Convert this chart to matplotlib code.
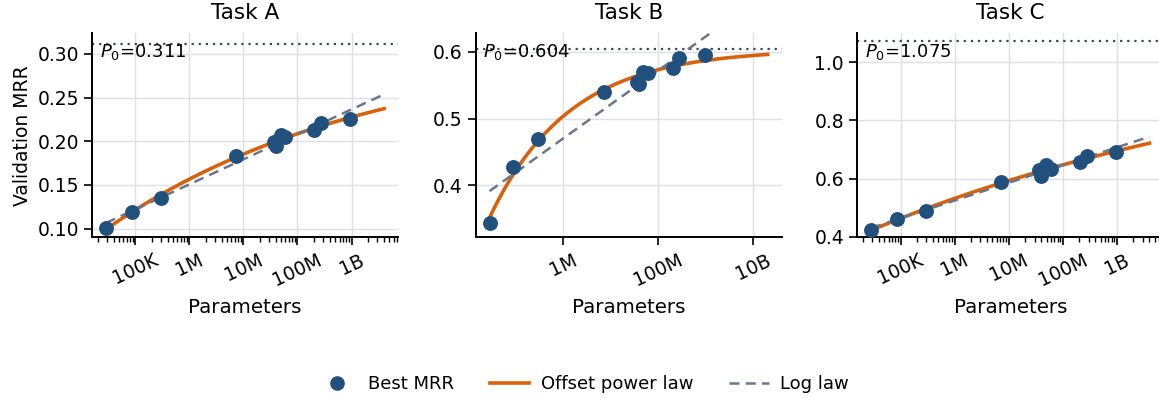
"""Scaling of validation MRR with model size for three tasks: best runs plus two fitted laws."""

import numpy as np
import matplotlib

matplotlib.use("Agg")
import matplotlib.pyplot as plt
from matplotlib.lines import Line2D
from matplotlib.ticker import FuncFormatter, NullFormatter

# --- data ------------------------------------------------------------------
params = [2.86e4, 8.7e4, 2.95e5, 7.3e6, 3.6e7, 4.0e7, 4.9e7, 6.0e7, 2.05e8, 2.75e8, 9.5e8]

tasks = ["Task A", "Task B", "Task C"]
mrr_a = [0.101, 0.1195, 0.1347, 0.1835, 0.1995, 0.1946, 0.2072, 0.2047, 0.2129, 0.2205, 0.2253]
mrr_b = [0.3428, 0.4274, 0.4697, 0.5400, 0.5552, 0.5517, 0.5706, 0.5680, 0.5766, 0.5905, 0.5955]
mrr_c = [0.4232, 0.4600, 0.4900, 0.5870, 0.6310, 0.6080, 0.6480, 0.6330, 0.6560, 0.6770, 0.6930]
p0 = [0.311, 0.604, 1.075]
fit_end = [4.0e9, 2.0e10, 4.0e9]          # how far the fitted curves are drawn
ylims = [(0.0902, 0.3235), (0.322, 0.628), (0.398, 1.100)]

BLUE = "#21507d"
ORANGE = "#d8620b"
SLATE = "#6c768b"
DOT = "#3c4657"
GRID = "#dde0e8"


def fit_log_law(n, y):
    """y = a + b * log10(n), ordinary least squares."""
    b, a = np.polyfit(np.log10(n), y, 1)
    return a, b


def fit_offset_power(n, y, p_inf):
    """y = p_inf - a * n**(-alpha); alpha by grid search, a by least squares."""
    n, y = np.asarray(n, float), np.asarray(y, float)
    best = None
    for alpha in np.linspace(0.005, 1.0, 2000):
        g = n ** (-alpha)
        a = np.dot(g, p_inf - y) / np.dot(g, g)
        sse = np.sum((p_inf - a * g - y) ** 2)
        if best is None or sse < best[0]:
            best = (sse, a, alpha)
    return best[1], best[2]


def fmt_params(x, _pos):
    for div, suf in ((1e9, "B"), (1e6, "M"), (1e3, "K")):
        if x >= div:
            return f"{x / div:g}{suf}"
    return f"{x:g}"


plt.rcParams.update({"font.family": "DejaVu Sans", "font.size": 13})

fig = plt.figure(figsize=(11.59, 3.98), dpi=100)
lefts = [0.0794, 0.4104, 0.7397]
axes = [fig.add_axes([l, 0.4038, 0.264, 0.5126]) for l in lefts]

for ax, name, y, p, xend, yl in zip(axes, tasks, [mrr_a, mrr_b, mrr_c], p0, fit_end, ylims):
    n = np.asarray(params)
    grid_n = np.logspace(np.log10(n.min()), np.log10(xend), 300)

    a_pow, alpha = fit_offset_power(n, y, p)
    a_log, b_log = fit_log_law(n, y)

    ax.grid(True, color=GRID, linewidth=1.0, zorder=0)
    ax.axhline(p, color=DOT, linestyle=(0, (1, 2.2)), linewidth=1.6, zorder=2)
    ax.plot(grid_n, p - a_pow * grid_n ** (-alpha), color=ORANGE, linewidth=2.6, zorder=3)
    ax.plot(grid_n, a_log + b_log * np.log10(grid_n), color=SLATE, linestyle=(0, (4, 2.5)),
            linewidth=1.8, zorder=4)
    ax.scatter(n, y, s=115, color=BLUE, zorder=5, linewidths=0)

    ax.set_xscale("log")
    ax.set_ylim(*yl)
    ax.xaxis.set_major_formatter(FuncFormatter(fmt_params))
    ax.xaxis.set_minor_formatter(NullFormatter())
    ax.tick_params(axis="x", labelrotation=25, labelsize=13.5)
    ax.tick_params(axis="y", labelsize=13.5)
    ax.tick_params(which="major", length=6, width=1.2)
    ax.tick_params(which="minor", length=3.5, width=1.0)
    for side in ("top", "right"):
        ax.spines[side].set_visible(False)
    for side in ("left", "bottom"):
        ax.spines[side].set_linewidth(1.4)

    ax.set_title(name, fontsize=15.5, pad=10)
    ax.set_xlabel("Parameters", fontsize=14.3, labelpad=6)
    ax.text(0.025, 0.955, rf"$P_0$={p:.3f}", transform=ax.transAxes, va="top", ha="left",
            fontsize=13, zorder=6)

for ax in axes:
    for lab in ax.get_xticklabels():
        lab.set_horizontalalignment("center")

axes[0].set_ylabel("Validation MRR", fontsize=13.5)
axes[2].set_yticks([0.4, 0.6, 0.8, 1.0])

handles = [
    Line2D([], [], marker="o", linestyle="none", color=BLUE, markersize=9.5),
    Line2D([], [], color=ORANGE, linewidth=2.6),
    Line2D([], [], color=SLATE, linestyle=(0, (4, 2.5)), linewidth=1.8),
]
fig.legend(handles, ["Best MRR", "Offset power law", "Log law"], loc="center",
           bbox_to_anchor=(0.503, 0.035), ncol=3, frameon=False, fontsize=13,
           columnspacing=1.95, handlelength=2.2, handletextpad=0.65)

fig.savefig("out.png", dpi=100)
